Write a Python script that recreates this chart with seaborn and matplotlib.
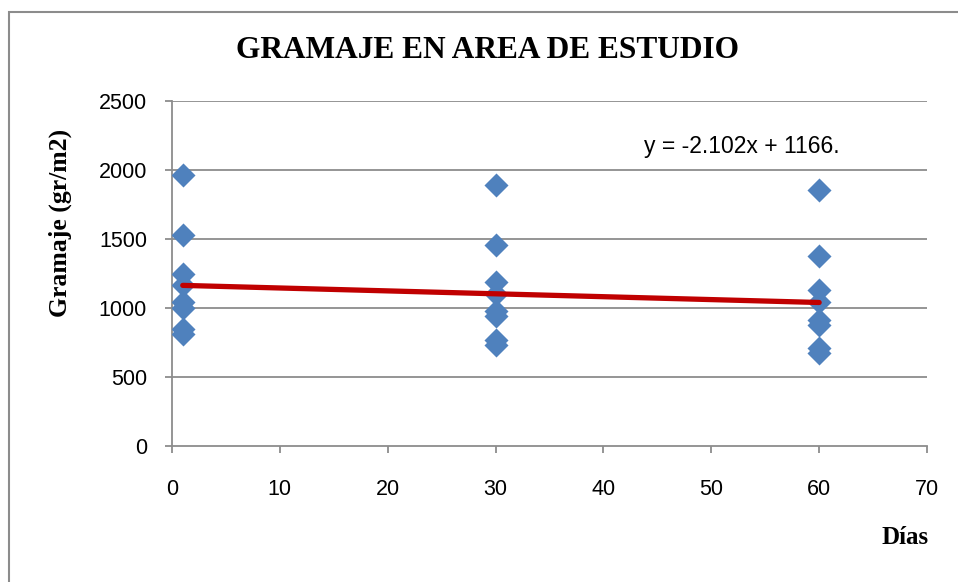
import matplotlib
matplotlib.use("Agg")
import matplotlib.pyplot as plt
import numpy as np
import pandas as pd
import seaborn as sns
from matplotlib.patches import Rectangle

# Sampling days and measured grammage (gr/m2) at each day
dias_1 = [1, 1, 1, 1, 1, 1, 1, 1]
gramaje_1 = [1965, 1530, 1250, 1165, 1045, 1000, 850, 815]
dias_30 = [30, 30, 30, 30, 30, 30, 30, 30]
gramaje_30 = [1890, 1455, 1190, 1100, 975, 945, 770, 735]
dias_60 = [60, 60, 60, 60, 60, 60, 60, 60]
gramaje_60 = [1855, 1375, 1130, 1045, 915, 880, 710, 675]

# Linear trend shown on the chart
pendiente = -2.102
intercepto = 1166
trend_x = [1, 60]
etiqueta_trend = "y = -2.102x + 1166."

x_ticks = [0, 10, 20, 30, 40, 50, 60, 70]
y_ticks = [0, 500, 1000, 1500, 2000, 2500]

df = pd.DataFrame({
    "Días": dias_1 + dias_30 + dias_60,
    "Gramaje": gramaje_1 + gramaje_30 + gramaje_60,
})

sns.set_theme(style="white")
plt.rcParams["font.family"] = ["Liberation Sans", "DejaVu Sans"]
plt.rcParams["text.color"] = "black"
plt.rcParams["xtick.color"] = "black"
plt.rcParams["ytick.color"] = "black"

fig = plt.figure(figsize=(9.58, 5.82), dpi=100)
ax = fig.add_axes([172 / 958, 1 - 446 / 582, (927 - 172) / 958, (446 - 101) / 582])

grid_col = "#8c8c8c"
for yv in y_ticks[1:]:
    ax.axhline(yv, color=grid_col, lw=1.3, zorder=0)

sns.scatterplot(data=df, x="Días", y="Gramaje", marker="D", s=150,
                color="#4F81BD", edgecolor="#4F81BD", linewidth=0, ax=ax, zorder=3)

tx = np.array(trend_x, dtype=float)
ax.plot(tx, pendiente * tx + intercepto, color="#C00000", lw=3.8,
        solid_capstyle="round", zorder=4)

ax.set_xlim(0, 70)
ax.set_ylim(0, 2500)
ax.set_xticks(x_ticks)
ax.set_yticks(y_ticks)
ax.tick_params(axis="both", which="major", direction="out", length=5, width=1.3,
               color=grid_col, labelsize=15.5, labelcolor="black",
               bottom=True, left=True)
ax.tick_params(axis="x", pad=19)
ax.tick_params(axis="y", pad=13)
ax.set_xlabel("")
ax.set_ylabel("")
for side in ["top", "right"]:
    ax.spines[side].set_visible(False)
for side in ["left", "bottom"]:
    ax.spines[side].set_color(grid_col)
    ax.spines[side].set_linewidth(1.3)

ax.text(0.755, 0.867, etiqueta_trend, transform=ax.transAxes, ha="center",
        va="center", fontsize=16.5, color="black")

serif = ["Liberation Serif", "DejaVu Serif"]
fig.text(487 / 958, 1 - 50 / 582, "GRAMAJE EN AREA DE ESTUDIO", ha="center",
         va="center", fontsize=22.6, fontweight="bold", family=serif,
         color="black")
fig.text(60 / 958, 1 - 223 / 582, "Gramaje (gr/m2)", ha="center", va="center",
         rotation=90, fontsize=18.5, fontweight="bold", family=serif,
         color="black")
fig.text(905 / 958, 1 - 537 / 582, "Días", ha="center", va="center",
         fontsize=18, fontweight="bold", family=serif, color="black")

# Chart area frame
fig.patches.append(Rectangle((9 / 958, -0.1), 1.2, 1 - 12 / 582 + 0.1,
                             transform=fig.transFigure, fill=False,
                             edgecolor="#8c8c8c", lw=1.5))

fig.savefig("out.png", dpi=100)
